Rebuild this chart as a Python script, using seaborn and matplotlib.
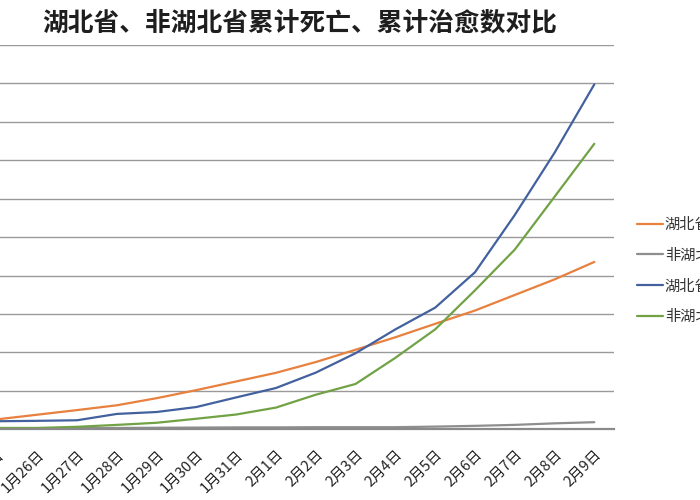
import matplotlib
matplotlib.use("Agg")
import matplotlib.pyplot as plt
import seaborn as sns
import pandas as pd
import numpy as np

dates = ["1月25日", "1月26日", "1月27日", "1月28日", "1月29日", "1月30日", "1月31日",
         "2月1日", "2月2日", "2月3日", "2月4日", "2月5日", "2月6日", "2月7日", "2月8日", "2月9日"]
hubei_deaths = [52, 76, 100, 125, 162, 204, 249, 294, 350, 414, 479, 549, 618, 699, 780, 871]
non_hubei_deaths = [4, 4, 6, 7, 8, 9, 10, 10, 11, 11, 11, 14, 18, 23, 31, 37]
hubei_cured = [42, 44, 47, 80, 90, 116, 166, 215, 295, 396, 520, 633, 817, 1115, 1439, 1795]
non_hubei_cured = [7, 7, 13, 23, 34, 55, 77, 113, 180, 236, 372, 520, 723, 935, 1210, 1486]
series_names = ["湖北省累计死亡", "非湖北省累计死亡", "湖北省累计治愈", "非湖北省累计治愈"]
title = "湖北省、非湖北省累计死亡、累计治愈数对比"

sns.set_theme(style="white")
plt.rcParams["font.family"] = ["Noto Sans CJK SC", "DejaVu Sans"]

rows = []
for name, vals in zip(series_names, [hubei_deaths, non_hubei_deaths, hubei_cured, non_hubei_cured]):
    for i, v in enumerate(vals):
        rows.append({"idx": i, "人数": v, "类别": name})
df = pd.DataFrame(rows)

palette = {series_names[0]: "#E8803E",
           series_names[1]: "#8E8E8E",
           series_names[2]: "#42619E",
           series_names[3]: "#72A246"}

fig = plt.figure(figsize=(7, 5), dpi=100)
ax = fig.add_axes([-22.4 / 700, 0.1414, 636.6 / 700, 0.7686])

sns.lineplot(data=df, x="idx", y="人数", hue="类别", hue_order=series_names,
             palette=palette, linewidth=1.6, ax=ax, sort=False)

ax.set_xlim(-0.5, len(dates) - 0.5)
ax.set_ylim(0, 2000)
ax.set_yticks(np.arange(0, 2001, 200))
ax.set_yticklabels([])
ax.yaxis.grid(True, color="#9a9a9a", linewidth=1.0)
ax.xaxis.grid(False)
ax.set_axisbelow(True)
for s in ["left", "top", "right"]:
    ax.spines[s].set_visible(False)
ax.spines["bottom"].set_color("#8a8a8a")
ax.spines["bottom"].set_linewidth(1.6)
ax.set_xlabel("")
ax.set_ylabel("")
ax.set_xticks(range(len(dates)))
ax.set_xticklabels(dates, rotation=45, ha="right", va="top", rotation_mode="anchor",
                   fontsize=10.5, color="#222222")
ax.tick_params(axis="x", length=0, pad=13)
ax.tick_params(axis="y", length=0)

handles, labels = ax.get_legend_handles_labels()
ax.get_legend().remove()
fig.legend(handles, labels, loc="upper left", bbox_to_anchor=(637 / 700, 1 - 216 / 500),
           frameon=False, fontsize=11, handlelength=1.7, handletextpad=0.12,
           labelspacing=0.9, borderpad=0, borderaxespad=0, labelcolor="#333333")

fig.text(300 / 700, 1 - 23 / 500, title, ha="center", va="center",
         fontsize=18.5, fontweight="bold", color="#1e1e1e")

fig.savefig("out.png", dpi=100)
